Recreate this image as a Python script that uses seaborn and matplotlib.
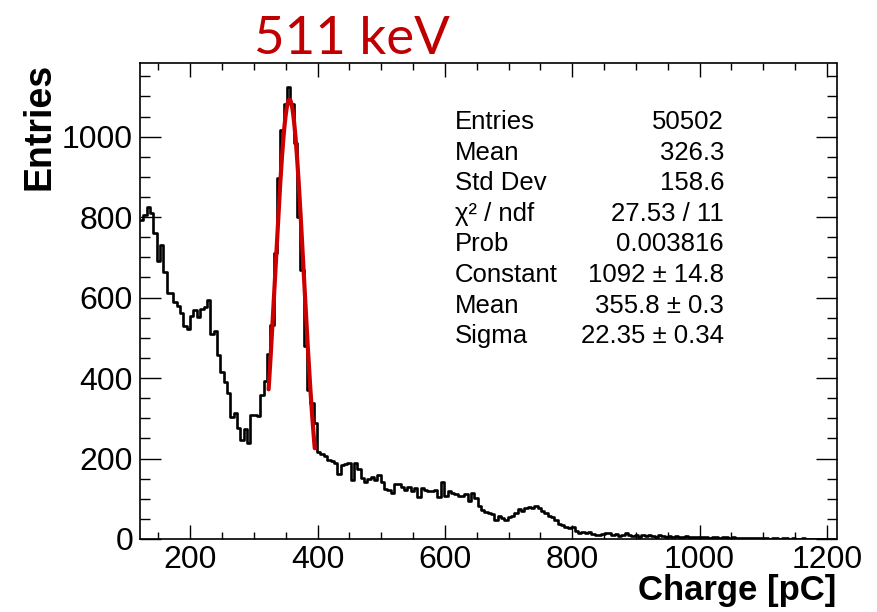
import numpy as np
import pandas as pd
import matplotlib
matplotlib.use("Agg")
import matplotlib.pyplot as plt
from matplotlib.ticker import MultipleLocator
import seaborn as sns

# Charge spectrum: bin contents, 5.25 pC bins starting at 121 pC
x_low = 121.0
bin_width = 5.25

counts_low = [
    794, 805, 826, 811, 760, 690, 730, 664, 612, 612,
    590, 579, 561, 529, 521, 554, 569, 552, 571, 577,
    595, 509, 518, 457, 416, 391, 362, 304, 314, 277,
    245, 273, 238, 308, 307, 306, 358, 392, 459, 532,
    710, 896, 1016, 1082, 1124, 1082, 983, 801, 668, 480,
    370, 337, 289,
]
counts_mid = [
    217, 212, 206, 196, 195, 188, 161, 184, 186, 190,
    147, 190, 173, 151, 142, 148, 153, 147, 159, 142,
    124, 122, 115, 137, 137, 130, 123, 130, 120, 126,
    104, 126, 123, 120, 120, 122, 104, 142, 107, 120,
    115, 112, 107, 107, 112, 95, 115, 101, 82, 72,
]
counts_bump = [
    68, 65, 62, 47, 57, 51, 47, 54, 57, 65,
    74, 70, 76, 80, 76, 82, 76, 70, 65, 57,
    54, 47, 37, 35, 29, 27, 31, 21, 16, 18,
    16, 18, 12, 10, 10, 12, 16, 14, 10, 12,
    8, 10, 14, 10, 8, 10, 6,
]
counts_tail = [
    9, 7, 10, 8, 6, 9, 7, 6, 8, 5, 7,
    6, 5, 7, 5, 4, 6, 5, 4, 5, 3,
    4, 5, 3, 4, 4, 3, 4, 2, 3, 3,
    2, 3, 2, 3, 2, 2, 3, 1, 2, 2,
    1, 2, 2, 1, 2, 1, 1, 2, 1, 1,
    1, 1, 0, 1, 1, 0, 1, 0,
]
counts = np.array(counts_low + counts_mid + counts_bump + counts_tail, dtype=float)
edges = x_low + bin_width * np.arange(len(counts) + 1)
centers = 0.5 * (edges[:-1] + edges[1:])

# Gaussian fit of the photopeak
fit_constant = 1092.0
fit_mean = 355.8
fit_sigma = 22.35
fit_range = (323.0, 395.5)

# Statistics box
stat_names = ["Entries", "Mean", "Std Dev", "χ² / ndf", "Prob",
              "Constant", "Mean", "Sigma"]
stat_values = ["50502", "326.3", "158.6", "27.53 / 11", "0.003816",
               "1092 ± 14.8", "355.8 ± 0.3", "22.35 ± 0.34"]

title_text = "511 keV"
x_title = "Charge [pC]"
y_title = "Entries"

sns.set_theme(style="ticks")
plt.rcParams["font.family"] = ["Liberation Sans", "DejaVu Sans"]

W, H = 877, 612
fig = plt.figure(figsize=(W / 100, H / 100), dpi=100)
ax = fig.add_axes([140 / W, 1 - 539 / H, (836.5 - 140) / W, (539 - 63) / H])

hist_df = pd.DataFrame({"charge": centers, "n": counts})
sns.histplot(data=hist_df, x="charge", weights="n", bins=[float(e) for e in edges],
             element="step", fill=False, color="black", linewidth=1.9, ax=ax)

xf = np.linspace(fit_range[0], fit_range[1], 200)
yf = fit_constant * np.exp(-0.5 * ((xf - fit_mean) / fit_sigma) ** 2)
fit_df = pd.DataFrame({"charge": xf, "fit": yf})
sns.lineplot(data=fit_df, x="charge", y="fit", color="#cc0000",
             linewidth=3.0, ax=ax)

ax.set_xlabel("")
ax.set_ylabel("")
ax.xaxis.set_major_locator(MultipleLocator(200))
ax.xaxis.set_minor_locator(MultipleLocator(50))
ax.yaxis.set_major_locator(MultipleLocator(200))
ax.yaxis.set_minor_locator(MultipleLocator(50))
ax.set_xlim(121, 1215)
ax.set_ylim(0, 1183)

ax.tick_params(axis="both", which="both", direction="in", top=True,
               right=True, width=1.0, color="black", labelsize=23,
               labelcolor="black")
ax.tick_params(axis="x", which="major", length=10, pad=4)
ax.tick_params(axis="x", which="minor", length=5)
ax.tick_params(axis="y", which="major", length=15, pad=5)
ax.tick_params(axis="y", which="minor", length=7.5)
for sp in ax.spines.values():
    sp.set_visible(True)
    sp.set_linewidth(1.2)
    sp.set_color("black")

# Statistics box text
for i, (name, val) in enumerate(zip(stat_names, stat_values)):
    yb = 1 - (129 + 30.6 * i) / H
    fig.text(455 / W, yb, name, ha="left", va="baseline", fontsize=18.5,
             color="black")
    fig.text(724 / W, yb, val, ha="right", va="baseline", fontsize=18.5,
             color="black")

fig.text(352 / W, 1 - 54 / H, title_text, ha="center", va="baseline",
         fontsize=38, color="#c00000", family=["Lato", "DejaVu Sans"])
fig.text(836 / W, 1 - 600 / H, x_title, ha="right", va="baseline",
         fontsize=25, fontweight="bold", color="black")
fig.text(40 / W, 1 - 63 / H, y_title, ha="center", va="top", rotation=90,
         fontsize=27, fontweight="bold", color="black")

fig.savefig("out.png", dpi=100, facecolor="white")
